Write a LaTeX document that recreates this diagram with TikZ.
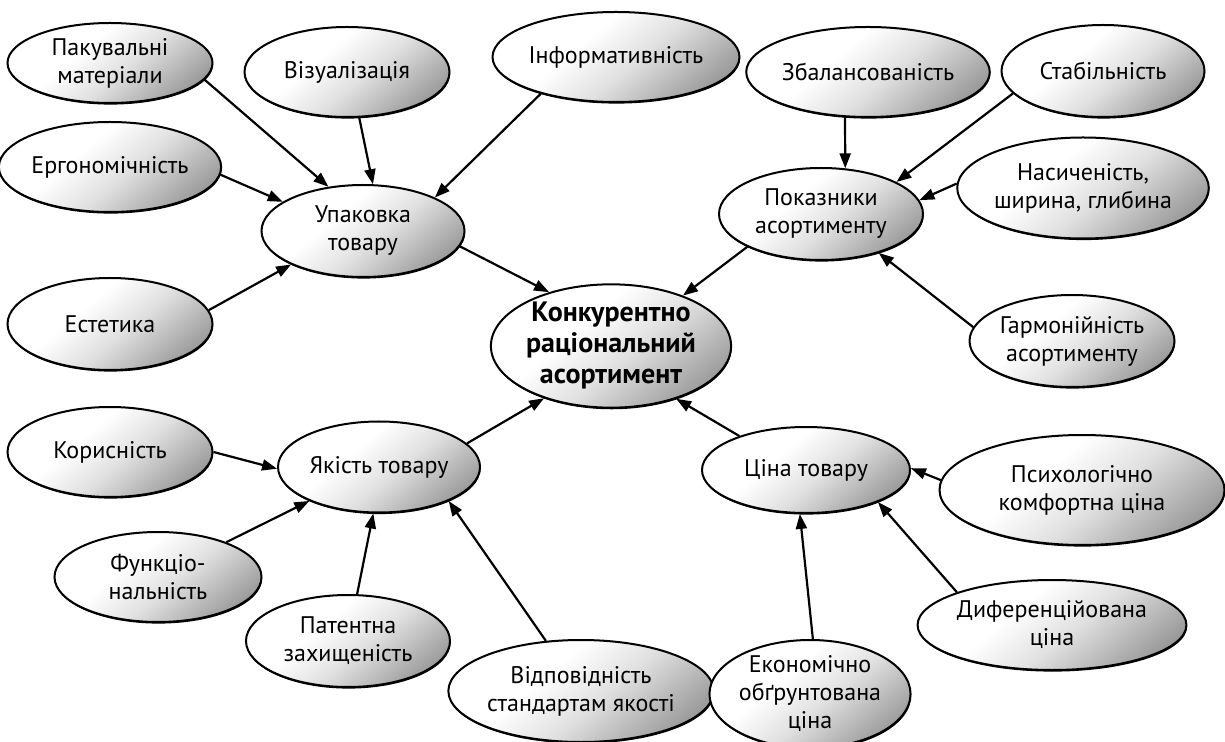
\documentclass[tikz,border=0pt]{standalone}
\usepackage{fontspec}
\setmainfont{PT Sans}
\usetikzlibrary{shapes.geometric,arrows.meta,shadows}
\pgfdeclareverticalshading{ellshade}{100bp}{color(0bp)=(black!58); color(22bp)=(black!42); color(45bp)=(black!12); color(60bp)=(white); color(100bp)=(white)}
\begin{document}
\begin{tikzpicture}[x=0.5pt,y=-0.5pt,
  el/.style={ellipse, draw=black, line width=1pt, inner sep=0pt,
    shading=ellshade, shading angle=40,
    drop shadow={shadow xshift=0.3pt, shadow yshift=-0.8pt, fill=black, opacity=1},
    align=center, font=\fontsize{12}{14}\selectfont},
  sz/.style 2 args={minimum width=#1*0.5pt, minimum height=#2*0.5pt},
  arr/.style={-{Triangle[length=7.5pt,width=5.5pt]}, line width=1.1pt}]
\useasboundingbox (0,0) rectangle (1225,742);
% center
\node[el, sz={227}{120}, font=\fontsize{14}{15.5}\selectfont\bfseries] (c) at (611,346) {Конкурентно\\раціональний\\асортимент};
% packaging group
\node[el, sz={205}{80}] (pak) at (110,63) {Пакувальні\\матеріали};
\node[el, sz={205}{90}] (viz) at (347,72) {Візуалізація};
\node[el, sz={205}{90}] (inf) at (616,57) {Інформативність};
\node[el, sz={205}{90}] (erg) at (110,167) {Ергономічність};
\node[el, sz={203}{92}] (upa) at (363,231) {Упаковка\\товару};
\node[el, sz={205}{92}] (est) at (110,324) {Естетика};
% assortment group
\node[el, sz={203}{90}] (zba) at (868,72) {Збалансованість};
\node[el, sz={203}{92}] (sta) at (1103,71) {Стабільність};
\node[el, sz={204}{92}] (pok) at (821,214) {Показники\\асортименту};
\node[el, sz={221}{101}] (nas) at (1083,188) {Насиченість,\\ширина, глибина};
\node[el, sz={205}{92}] (gar) at (1072,341) {Гармонійність\\асортименту};
% quality group
\node[el, sz={205}{90}] (kor) at (110,452) {Корисність};
\node[el, sz={202}{91}] (yak) at (379,467) {Якість товару};
\node[el, sz={207}{90}] (fun) at (158,577) {Функціо-\\нальність};
\node[el, sz={204}{92}] (pat) at (348,641) {Патентна\\захищеність};
\node[el, sz={231}{102}] (vid) at (581,691) {Відповідність\\стандартам якості};
% price group
\node[el, sz={208}{86}] (tsi) at (806,470) {Ціна товару};
\node[el, sz={285}{110}] (psy) at (1082,490) {Психологічно\\комфортна ціна};
\node[el, sz={253}{90}] (dyf) at (1052,625) {Диференційована\\ціна};
\node[el, sz={190}{108}] (eko) at (810,694) {Економічно\\обґрунтована\\ціна};
% arrows
\draw[arr] (pak.-10) -- (upa.128);
\draw[arr] (viz.-75) -- (upa.78);
\draw[arr] (inf.206) -- (upa.25);
\draw[arr] (erg.-4) -- (upa.160);
\draw[arr] (est.8) -- (upa.205);
\draw[arr] (upa.-9) -- (c.139);
\draw[arr] (zba.-117) -- (pok.62);
\draw[arr] (sta.194) -- (pok.23);
\draw[arr] (nas.178) -- (pok.8);
\draw[arr] (gar.172) -- (pok.-34);
\draw[arr] (pok.204) -- (c.35);
\draw[arr] (kor.0) -- (yak.181);
\draw[arr] (fun.27) -- (yak.206);
\draw[arr] (pat.79) -- (yak.-97);
\draw[arr] (vid.125) -- (yak.-26);
\draw[arr] (yak.15) -- (c.-142);
\draw[arr] (psy.176) -- (tsi.1);
\draw[arr] (dyf.161) -- (tsi.-24);
\draw[arr] (eko.87) -- (tsi.-98);
\draw[arr] (tsi.153) -- (c.-39);
\end{tikzpicture}
\end{document}
